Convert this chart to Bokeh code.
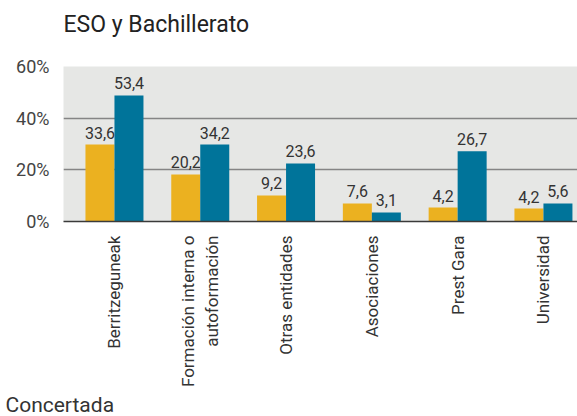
import math
from bokeh.plotting import figure
from bokeh.models import ColumnDataSource, FixedTicker, LabelSet, Title, Range1d
from bokeh.transform import dodge
from bokeh.core.properties import value
from bokeh.embed import file_html
from bokeh.resources import INLINE

categories = ["Berritzeguneak", "Formación interna o\nautoformación", "Otras entidades",
              "Asociaciones", "Prest Gara", "Universidad"]
# printed values (labels)
serie_a_labels = [33.6, 20.2, 9.2, 7.6, 4.2, 4.2]
serie_b_labels = [53.4, 34.2, 23.6, 3.1, 26.7, 5.6]
# bar heights as drawn in the picture
serie_a_bars = [29.8, 18.2, 10.1, 7.0, 5.4, 5.0]
serie_b_bars = [48.8, 29.8, 22.5, 3.5, 27.2, 7.0]
y_ticks = [0, 20, 40, 60]

YELLOW = "#ebb120"
BLUE = "#00749a"
FONT = "Roboto"

idx = list(range(len(categories)))
src = ColumnDataSource(dict(
    x=idx,
    a=serie_a_bars, b=serie_b_bars,
    la=[f"{v:.1f}".replace(".", ",") for v in serie_a_labels],
    lb=[f"{v:.1f}".replace(".", ",") for v in serie_b_labels],
))

p = figure(width=577, height=416, output_backend="svg", toolbar_location=None,
           title=None,
           x_range=Range1d(-0.594, 5.397), y_range=Range1d(0, 60),
           min_border_left=63, min_border_right=0, min_border_top=66, min_border_bottom=195)

# spacer between the frame and the title
p.add_layout(Title(text=" ", text_font=FONT, text_font_size="12px", standoff=13), "above")
p.add_layout(Title(text="ESO y Bachillerato", text_font=FONT, text_font_size="23px",
                   text_font_style="normal", text_color="#222222", align="left",
                   standoff=0), "above")

bw = 0.338
p.vbar(x=dodge("x", -bw / 2, range=p.x_range), top="a", width=bw, bottom=0,
       source=src, fill_color=YELLOW, line_color=None)
p.vbar(x=dodge("x", bw / 2, range=p.x_range), top="b", width=bw, bottom=0,
       source=src, fill_color=BLUE, line_color=None)

for col, lab, off in (("a", "la", -bw / 2), ("b", "lb", bw / 2)):
    ls = LabelSet(x=dodge("x", off, range=p.x_range), y=col, text=lab, source=src,
                  text_align="center", text_baseline="alphabetic", y_offset=6,
                  text_font=value(FONT), text_font_size=value("16px"),
                  text_color="#333333")
    p.add_layout(ls)

p.background_fill_color = "#e6e7e5"
p.border_fill_color = "white"
p.outline_line_color = None

p.xgrid.grid_line_color = None
p.ygrid.ticker = FixedTicker(ticks=y_ticks[1:])
p.ygrid.grid_line_color = "#858585"
p.ygrid.grid_line_width = 1.6

p.yaxis.ticker = FixedTicker(ticks=y_ticks)
p.yaxis.major_label_overrides = {t: f"{t}%" for t in y_ticks}
p.yaxis.axis_line_color = None
p.yaxis.major_tick_line_color = None
p.yaxis.minor_tick_line_color = None
p.yaxis.major_label_standoff = 8
p.yaxis.major_label_text_font = FONT
p.yaxis.major_label_text_font_size = "18px"
p.yaxis.major_label_text_color = "#444444"

p.xaxis.ticker = FixedTicker(ticks=idx)
p.xaxis.major_label_overrides = {i: c for i, c in zip(idx, categories)}
p.xaxis.major_label_orientation = math.pi / 2
p.xaxis.axis_line_color = "#3a3a3a"
p.xaxis.axis_line_width = 1.5
p.xaxis.major_tick_line_color = None
p.xaxis.minor_tick_line_color = None
p.xaxis.major_label_standoff = 8
p.xaxis.major_label_text_font = FONT
p.xaxis.major_label_text_font_size = "17px"
p.xaxis.major_label_text_color = "#333333"

p.add_layout(Title(text="Concertada", text_font=FONT, text_font_size="21px",
                   text_font_style="normal", text_color="#333333", align="left",
                   offset=-58, standoff=0), "below")

open("out.html", "w").write(file_html(p, INLINE))
